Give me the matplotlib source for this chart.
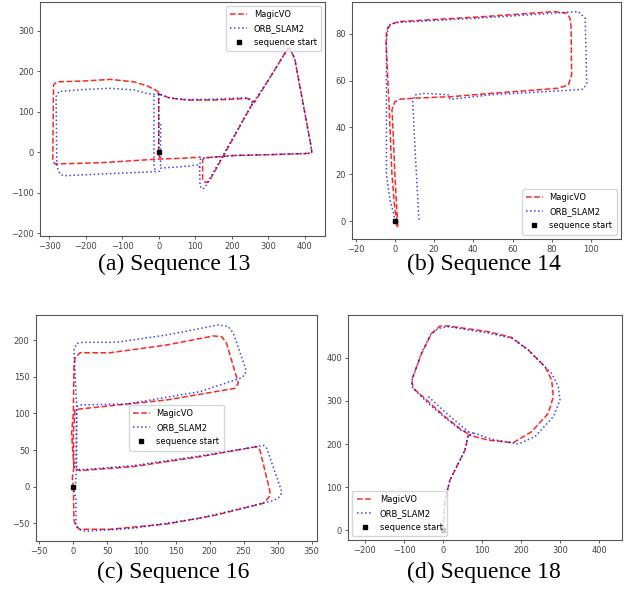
import numpy as np
import matplotlib.pyplot as plt

nan = np.nan

# ---- Sequence 13 (segments separated by nan) ----
s13_magic_x = [0, 0, 5, 30, 78, 150, 200, 243, 255, 262, 300, 353, 358, 372, 417, 419, 408, 300, 207, 124, 120, 120, 129, 138, 257, nan,
               0, -9, -32, -68, -132, -206, -279, -288, -290, -284, -160, -4, 60, 115, nan,
               0, 1, 4]
s13_magic_y = [0, 145, 142, 134, 129, 129, 131, 133, 128, 123, 178, 256, 257, 232, 14, -1, -3, -6, -8, -14, -19, -68, -75, -72, 121, nan,
               148, 154, 164, 174, 180, 176, 174, 166, -19, -29, -26, -17, -15, -12, nan,
               0, -10, -17]
s13_orb_x = [0, 0, 8, 30, 78, 150, 240, 252, 257, 300, 353, 358, 372, 417, 419, 408, 300, 207, 124, 114, 112, nan,
             0, -13, -31, -68, -132, -206, -274, -281, -279, -270, -260, -160, -13, 3, 6, 60, 110, 112, 113, 120, 126, 138, 257, nan,
             -13, -13, -8, nan,
             5, 5]
s13_orb_y = [0, 145, 142, 134, 130, 131, 135, 129, 121, 178, 256, 257, 232, 14, -1, -3, -6, -8, -14, -17, -40, nan,
             145, 143, 145, 154, 158, 155, 150, 137, -35, -54, -58, -54, -48, -47, -39, -36, -31, -40, -84, -91, -88, -68, 121, nan,
             140, -38, -46, nan,
             70, -38]

# ---- Sequence 14 ----
s14_magic_x = [0, 1.5, 1, 0, -1, -1.5, 0, 3, 10, 28, 50, 83, 88.4, 90.1, 89.8, 89.3, 87.6, 81.6, 44.3, 1.8, -2, -4.2, -4.5, -3, -1.5, 0, 1.5]
s14_magic_y = [0, -2.5, 5, 20, 40, 47.5, 51, 52.1, 52.5, 53.1, 54.6, 56.7, 58.1, 62.4, 83, 86.5, 88.7, 89.4, 87.2, 85.1, 84, 81.6, 76, 50, 20, 5, -2.5]
s14_orb_x = [0, -0.5, -2.5, -4.3, -4.3, -3.3, 1, 50, 93.5, 97, 97.8, 96, 91.8, 50, 28.1, 27.3, 15.4, 10.3, 9.1, 10.3, 12.3]
s14_orb_y = [0, 3, 9, 20, 77, 83.7, 84.7, 87, 89.4, 86.5, 58.8, 56.3, 56, 54, 52, 53.9, 54.6, 53.9, 51, 30.4, 0]

# ---- Sequence 16 ----
s16_magic_x = [0, 0.9, 3.9, 9.7, 53.8, 137, 210.5, 279, 287.8, 288.8, 274, 269.2, 186, 88, 9.7, 0.9, -1, -2.5, 0, 0.9, 2.4, 9.7, 53.8,
               137, 205.6, 217.8, 225, 242.3, 237.4, 137, 9.7, 2.4, 0, 0.9, -1.5, 0]
s16_magic_y = [0, -45.4, -54.6, -58.2, -58.2, -51, -38.6, -22.7, -13.6, -6.7, 49.8, 54.7, 41, 27.4, 22, 25.1, 50.2, 73, 100.3, 164, 175.4,
               183, 183, 193.6, 206, 205, 195.9, 141.3, 134.4, 118.5, 106.2, 104.8, 73, 27.4, 12, 0]
s16_orb_x = [0, 3.9, 3.9, 9.7, 19.5, 88, 186, 293.7, 303.5, 306, 283.9, 279, 269.2, 186, 88, 9.7, 3.9, 4.8, 0.9, 4.8, 14.6, 63.6,
             137, 212.9, 227.6, 235, 253.5, 252, 244.7, 186, 78.3, 9.7, 4.8, 4.8, 3]
s16_orb_y = [0, -18, -52.3, -59, -61, -56.8, -43.2, -19, -13.6, -6.7, 52.5, 56.6, 54.7, 42, 28.8, 22.9, 27.4, 109.4, 186.8, 195.9, 197.3,
             197.3, 207.3, 221, 218.7, 209.6, 159.5, 152.6, 148, 129.9, 113, 111.7, 109.4, 27.4, 0]

# ---- Sequence 18 ----
s18_magic_x = [0, 4.8, 17.6, 39, 56, 64.6, 115.8, 179.8, 226.7, 269.4, 282.2, 278, 260.9, 218.2, 175.5, 115.8, 13.4, -8, -29.3,
               -54.9, -80.5, -76.2, -37.8, 4.8, 47.5, 68.8]
s18_magic_y = [0, 70, 116.6, 155, 186, 221, 209, 203, 228.6, 271, 309.7, 348.3, 379, 417.8, 447, 460.2, 473.4, 473.4, 456.4,
               410, 348.3, 329, 298, 263.3, 232.4, 221]
s18_orb_x = [0, 4.8, 17.6, 39, 56, 64.6, 81.7, 124.3, 192.6, 235.3, 282.2, 299.3, 295, 278, 218, 175.5, 115.8, 13.4, -12.2, -33,
             -57, -80.5, -80.5, -72, -37.8, 4.8, 47.5, 81.7, nan, -37.8, 10, 64.6]
s18_orb_y = [0, 70, 116.6, 155, 186, 221, 224.7, 210.8, 200, 217, 263.3, 302, 332.8, 363.7, 417.8, 445, 457, 471.8, 468, 452,
             408, 345, 332.8, 325, 294, 261, 231, 224.7, nan, 309.7, 270, 228.6]

panels = [
    ("(a) Sequence 13", s13_magic_x, s13_magic_y, s13_orb_x, s13_orb_y,
     (-325, 455), (-207, 372), np.arange(-300, 401, 100), np.arange(-200, 301, 100), "upper right"),
    ("(b) Sequence 14", s14_magic_x, s14_magic_y, s14_orb_x, s14_orb_y,
     (-21.7, 115.1), (-7.4, 93.6), np.arange(-20, 101, 20), np.arange(0, 81, 20), "lower right"),
    ("(c) Sequence 16", s16_magic_x, s16_magic_y, s16_orb_x, s16_orb_y,
     (-55.3, 357.3), (-73.8, 234.6), np.arange(-50, 351, 50), np.arange(-50, 201, 50), "center"),
    ("(d) Sequence 18", s18_magic_x, s18_magic_y, s18_orb_x, s18_orb_y,
     (-242.7, 457.3), (-22.5, 498.9), np.arange(-200, 401, 100), np.arange(0, 401, 100), "lower left"),
]

rects = [
    [0.0631, 0.600, 0.4495, 0.3971],
    [0.5557, 0.5954, 0.4233, 0.4017],
    [0.0563, 0.0836, 0.4432, 0.3825],
    [0.5494, 0.0847, 0.4312, 0.3814],
]
caption_xy = [(0.274, 0.552), (0.763, 0.552), (0.273, 0.030), (0.763, 0.030)]

fig = plt.figure(figsize=(6.34, 5.9), dpi=100)

for (title, mx, my, ox, oy, xl, yl, xt, yt, loc), rect, cxy in zip(panels, rects, caption_xy):
    ax = fig.add_axes(rect)
    ax.plot(mx, my, color="red", linestyle="--", linewidth=1.1, alpha=0.85, label="MagicVO")
    ax.plot(ox, oy, color="blue", linestyle=":", linewidth=1.1, alpha=0.75, label="ORB_SLAM2")
    ax.plot([0], [0], "s", color="black", markersize=3.5, linestyle="none", label="sequence start")
    ax.set_xlim(*xl)
    ax.set_ylim(*yl)
    ax.set_xticks(xt)
    ax.set_yticks(yt)
    ax.tick_params(labelsize=6, length=2.5, width=0.6, colors="#444444", pad=2)
    for sp in ax.spines.values():
        sp.set_color("#555555")
        sp.set_linewidth(0.8)
    ax.legend(loc=loc, fontsize=6, handlelength=2.0, borderpad=0.5, labelspacing=0.6)
    fig.text(cxy[0], cxy[1], title, ha="center", va="center",
             family="Liberation Serif", fontsize=17)

fig.savefig("out.png", dpi=100)
